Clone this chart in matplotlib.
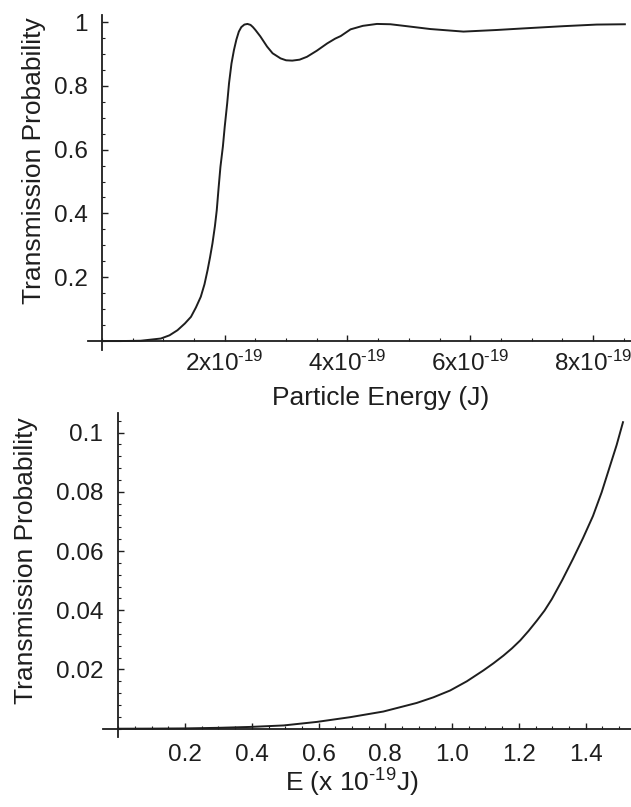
import matplotlib
matplotlib.use("Agg")
import matplotlib.pyplot as plt
from matplotlib.ticker import MultipleLocator

plt.rcParams['font.family'] = 'Liberation Sans'
plt.rcParams['mathtext.fontset'] = 'custom'
plt.rcParams['mathtext.rm'] = 'Liberation Sans'
plt.rcParams['mathtext.it'] = 'Liberation Sans:italic'

# top panel: energy in units of 1e-19 J
energy_top = [0.0, 0.3, 0.63, 0.96, 1.1, 1.23, 1.35, 1.45, 1.53, 1.61, 1.67, 1.72,
              1.76, 1.80, 1.84, 1.87, 1.90, 1.93, 1.97, 2.00, 2.04, 2.07, 2.11, 2.15,
              2.19, 2.23, 2.27, 2.32, 2.37, 2.42, 2.46, 2.50, 2.58, 2.69, 2.78, 2.91,
              3.00, 3.10, 3.22, 3.34, 3.50, 3.67, 3.80, 3.89, 4.05, 4.25, 4.48, 4.70,
              4.92, 5.35, 5.89, 6.43, 6.87, 7.52, 8.06, 8.52]
trans_top = [0.0, 0.0, 0.001, 0.008, 0.018, 0.034, 0.055, 0.076, 0.105, 0.139, 0.178, 0.222,
             0.262, 0.306, 0.36, 0.41, 0.48, 0.546, 0.61, 0.672, 0.745, 0.808, 0.87, 0.912,
             0.945, 0.970, 0.984, 0.992, 0.994, 0.991, 0.984, 0.975, 0.955, 0.923, 0.902, 0.886,
             0.880, 0.879, 0.882, 0.891, 0.910, 0.933, 0.948, 0.956, 0.977, 0.988, 0.994, 0.993,
             0.988, 0.978, 0.970, 0.975, 0.980, 0.987, 0.992, 0.993]

# bottom panel: low energy tunnelling region
energy_bot = [0.0, 0.1, 0.2, 0.3, 0.395, 0.495, 0.595, 0.695, 0.794, 0.894, 0.944, 0.994,
              1.044, 1.094, 1.124, 1.154, 1.179, 1.204, 1.229, 1.254, 1.277, 1.299, 1.33,
              1.362, 1.392, 1.422, 1.448, 1.473, 1.493, 1.512]
trans_bot = [0.0, 0.00003, 0.0001, 0.0003, 0.0006, 0.0011, 0.0023, 0.0039, 0.0058,
             0.0087, 0.0106, 0.0129, 0.016, 0.0197, 0.0221, 0.0247, 0.0271, 0.0298, 0.033,
             0.0365, 0.0399, 0.0438, 0.0502, 0.0573, 0.0643, 0.0718, 0.0798, 0.0887,
             0.0958, 0.1035]

exp_sup = '$^{\u2010' + '19}$'   # hyphen, like the scan, not a wide minus
top_xticks = [2, 4, 6, 8]
top_xlabels = ['%dx10' % v + exp_sup for v in top_xticks]
top_yticks = [0.2, 0.4, 0.6, 0.8, 1.0]
top_ylabels = ['0.2', '0.4', '0.6', '0.8', '1']
bot_xticks = [0.2, 0.4, 0.6, 0.8, 1.0, 1.2, 1.4]
bot_xlabels = ['0.2', '0.4', '0.6', '0.8', '1.0', '1.2', '1.4']
bot_yticks = [0.02, 0.04, 0.06, 0.08, 0.1]
bot_ylabels = ['0.02', '0.04', '0.06', '0.08', '0.1']

W, H = 631, 807
ink = '#1e1e1e'
fs = 17.5
lfs = 19

fig = plt.figure(figsize=(W / 100, H / 100), dpi=100)


# axes placed by pixel box (left, top, right, bottom) of the scan
def px_axes(left, top, right, bottom):
    return fig.add_axes([left / W, 1 - bottom / H, (right - left) / W, (bottom - top) / H])


# mathematica style axes crossing at the origin
def style(ax, xminor, yminor, xpad, ypad):
    for s in ['top', 'right']:
        ax.spines[s].set_visible(False)
    for s in ['left', 'bottom']:
        ax.spines[s].set_position(('data', 0))
        ax.spines[s].set_color(ink)
        ax.spines[s].set_linewidth(1.3)
    ax.patch.set_alpha(0)
    ax.xaxis.set_minor_locator(MultipleLocator(xminor))
    ax.yaxis.set_minor_locator(MultipleLocator(yminor))
    ax.tick_params(which='both', direction='in', color=ink, labelcolor=ink, labelsize=fs)
    ax.tick_params(which='major', length=4, width=1.0)
    ax.tick_params(which='minor', length=2, width=0.8)
    ax.tick_params(axis='x', pad=xpad)
    ax.tick_params(axis='y', pad=ypad)


ax1 = px_axes(88, 15, 631, 350)
ax1.plot(energy_top, trans_top, color=ink, lw=1.4)
ax1.set_xlim(-0.228, 8.62)
ax1.set_ylim(-0.028, 1.022)
ax1.set_xticks(top_xticks, top_xlabels)
ax1.set_yticks(top_yticks, top_ylabels)
style(ax1, 0.5, 0.05, 7, 10)

ax2 = px_axes(103, 413, 631, 737)
ax2.plot(energy_bot, trans_bot, color=ink, lw=1.4)
ax2.set_xlim(-0.046, 1.536)
ax2.set_ylim(-0.0028, 0.1066)
ax2.set_xticks(bot_xticks, bot_xlabels)
ax2.set_yticks(bot_yticks, bot_ylabels)
style(ax2, 0.05, 0.004, 11, 11)

fig.text(34 / W, 1 - 161 / H, 'Transmission Probability', rotation=90,
         ha='center', va='center', fontsize=lfs, color=ink)
fig.text(381 / W, 1 - 405 / H, 'Particle Energy (J)',
         ha='center', va='baseline', fontsize=lfs, color=ink)
fig.text(26 / W, 1 - 561 / H, 'Transmission Probability', rotation=90,
         ha='center', va='center', fontsize=lfs, color=ink)
fig.text(352 / W, 1 - 792 / H, 'E (x 10' + exp_sup + 'J)',
         ha='center', va='baseline', fontsize=lfs, color=ink)

fig.savefig('out.png', dpi=100)
